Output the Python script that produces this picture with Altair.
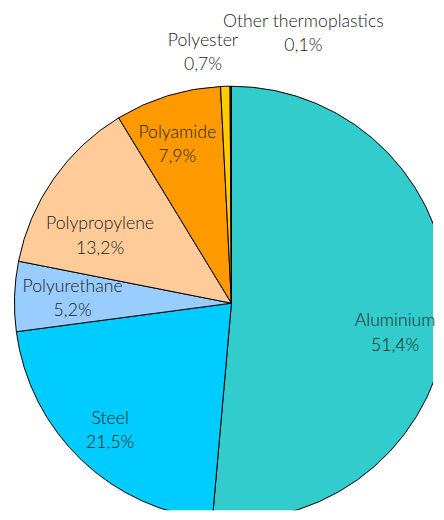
import altair as alt
import pandas as pd

categories = ["Aluminium", "Steel", "Polyurethane", "Polypropylene", "Polyamide", "Polyester", "Other thermoplastics"]
values = [51.4, 21.5, 5.2, 13.2, 7.9, 0.7, 0.1]
pct_labels = ["51,4%", "21,5%", "5,2%", "13,2%", "7,9%", "0,7%", "0,1%"]
colors = ["#33CCCC", "#00CCFF", "#99CCFF", "#FFCC99", "#FF9900", "#FFCC00", "#333300"]

W, H = 428, 504
CX, CY = 225, 295.5   # pie centre inside the chart
PIE_R = 218.5
LABEL_R = 165
SX, SY = CX - W / 2, CY - H / 2

# label nudges (dx, dy) in pixels relative to the default label position
label_offsets = {
    "Aluminium": (0, 11),
    "Steel": (-8, -3),
    "Polyurethane": (5, -11),
    "Polypropylene": (3, 15),
    "Polyamide": (-6, -14),
    "Polyester": (-24, -99),
    "Other thermoplastics": (73, -118),
}

df = pd.DataFrame({
    "category": categories,
    "value": values,
    "pct": pct_labels,
    "order": list(range(len(categories))),
})
df["label"] = df["category"] + "\n" + df["pct"]

theta_scale = alt.Scale(domain=[0, 100], range=[0, 6.283185307179586])

base = alt.Chart(df)

arcs = base.mark_arc(outerRadius=PIE_R, stroke="#000000", strokeWidth=1, clip=True).encode(
    theta=alt.Theta("value:Q", stack=True, scale=theta_scale),
    color=alt.Color("category:N", scale=alt.Scale(domain=categories, range=colors), legend=None),
    order=alt.Order("order:Q"),
    x=alt.value(CX),
    y=alt.value(CY),
)

label_base = base.transform_window(
    cum="sum(value)", sort=[alt.SortField("order")], frame=[None, 0]
).transform_calculate(mid="datum.cum - datum.value / 2")

layers = [arcs]
for cat in categories:
    dx, dy = label_offsets[cat]
    layers.append(
        label_base.transform_filter(alt.datum.category == cat)
        .mark_text(
            radius=LABEL_R, dx=dx + SX, dy=dy + SY, font="Lato", fontWeight=300, fontSize=17.8,
            lineHeight=24.5, lineBreak="\n", align="center", baseline="middle", color="#222222",
        )
        .encode(theta=alt.Theta("mid:Q", scale=theta_scale), text="label:N")
    )

chart = alt.layer(*layers).properties(
    width=W, height=H, padding=0
).configure_view(stroke=None)

chart.save("out.html", embed_options={"renderer": "svg", "actions": False})
